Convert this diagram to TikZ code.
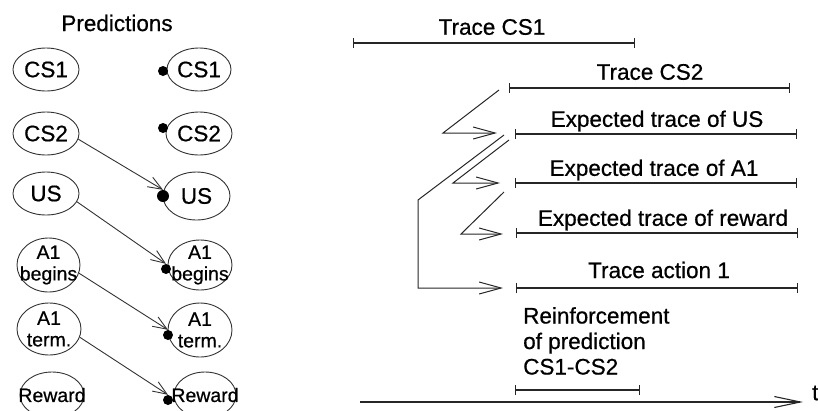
\documentclass[tikz,border=0pt]{standalone}
\usepackage{fontspec}
\setmainfont{Liberation Sans}[FakeBold=0.6]
\usetikzlibrary{arrows.meta,shapes.geometric}

\tikzset{
  oval/.style={ellipse, draw=black!80, line width=0.9pt, inner sep=0pt},
  bigtxt/.style={font=\fontsize{22.5}{25}\selectfont, inner sep=0pt},
  smalltxt/.style={font=\fontsize{19.5}{21.5}\selectfont, inner sep=0pt, align=center},
  dot/.style={circle, fill=black, inner sep=0pt, minimum size=10pt},
  link/.style={draw=black!80, line width=0.9pt, -{Straight Barb[length=14pt,width=11pt]}},
  bar/.style={draw=black!85, line width=1.1pt, {Bar[width=10pt]}-{Bar[width=10pt]}},
  zig/.style={draw=black!85, line width=1pt, -{Straight Barb[length=22pt,width=12pt]}},
}

\begin{document}
\begin{tikzpicture}[x=1pt, y=-1pt]
\useasboundingbox (0,0) rectangle (818,410);

% ---------- prediction units ----------
\node[bigtxt] (title) at (117,23) {Predictions};

% left column
\node[oval, minimum width=66pt, minimum height=43pt] (cs1l) at (46,69.5) {};
\node[bigtxt] (cs1lt) at (cs1l) {CS1};
\node[oval, minimum width=66pt, minimum height=43pt] (cs2l) at (46,133.5) {};
\node[bigtxt] (cs2lt) at (cs2l) {CS2};
\node[oval, minimum width=66pt, minimum height=43pt] (usl) at (46,193.5) {};
\node[bigtxt] (uslt) at (usl) {US};
\node[oval, minimum width=63pt, minimum height=54pt] (a1bl) at (48.5,265) {};
\node[smalltxt] (a1blt) at (a1bl) {A1\\begins};
\node[oval, minimum width=64pt, minimum height=52pt] (a1tl) at (49,329) {};
\node[smalltxt] (a1tlt) at (a1tl) {A1\\term.};
\node[oval, minimum width=64pt, minimum height=46pt] (rewl) at (52,395) {};
\node[smalltxt] (rewlt) at (rewl) {Reward};

% right column
\node[oval, minimum width=64pt, minimum height=43pt] (cs1r) at (199,69.5) {};
\node[bigtxt] (cs1rt) at (cs1r) {CS1};
\node[oval, minimum width=66pt, minimum height=43pt] (cs2r) at (199,133.5) {};
\node[bigtxt] (cs2rt) at (cs2r) {CS2};
\node[oval, minimum width=67pt, minimum height=48pt] (usr) at (196.5,196) {};
\node[bigtxt] (usrt) at (usr) {US};
\node[oval, minimum width=64pt, minimum height=50pt] (a1br) at (200,265) {};
\node[smalltxt] (a1brt) at (a1br) {A1\\begins};
\node[oval, minimum width=64pt, minimum height=54pt] (a1tr) at (200,330) {};
\node[smalltxt] (a1trt) at (a1tr) {A1\\term.};
\node[oval, minimum width=62pt, minimum height=46pt] (rewr) at (205,395) {};
\node[smalltxt] (rewrt) at (rewr) {Reward};

% input dots
\node[dot] (cs1d) at (163,71) {};
\node[dot] (cs2d) at (163,128) {};
\node[dot, minimum size=12pt] (usd) at (163,196) {};
\node[dot] (a1bd) at (166,269) {};
\node[dot] (a1td) at (168,335) {};
\node[dot] (rewd) at (168,400) {};

% prediction links
\draw[link] (cs2l.-10) -- (usd.north);
\draw[link] (usl.-15) -- (a1bd.north);
\draw[link] (a1bl.-15) -- (a1td.north);
\draw[link] (a1tl.-15) -- (rewd.north);

% ---------- traces ----------
\coordinate (cs1a) at (353,43);  \coordinate (cs1b) at (635,43);
\coordinate (cs2a) at (509,88);  \coordinate (cs2b) at (790,88);
\coordinate (usa)  at (515,134); \coordinate (usb)  at (797,134);
\coordinate (a1a)  at (515,183); \coordinate (a1b)  at (797,183);
\coordinate (rwa)  at (516,233); \coordinate (rwb)  at (798,233);
\coordinate (aca)  at (516,288); \coordinate (acb)  at (798,288);
\coordinate (rfa)  at (515,390); \coordinate (rfb)  at (640,390);

\draw[bar] (cs1a) -- (cs1b);
\draw[bar] (cs2a) -- (cs2b);
\draw[bar] (usa) -- (usb);
\draw[bar] (a1a) -- (a1b);
\draw[bar] (rwa) -- (rwb);
\draw[bar] (aca) -- (acb);
\draw[bar] (rfa) -- (rfb);

\node[bigtxt] (lcs1) at (492,27)  {Trace CS1};
\node[bigtxt] (lcs2) at (650,72)  {Trace CS2};
\node[bigtxt] (lus)  at (657,121) {Expected trace of US};
\node[bigtxt] (la1)  at (654,170) {Expected trace of A1};
\node[bigtxt] (lrw)  at (663,220) {Expected trace of reward};
\node[bigtxt] (lac)  at (659,270) {Trace action 1};
\node[bigtxt, align=left, anchor=north west, font=\fontsize{22.5}{25.5}\selectfont]
  (lrf) at (523,307) {Reinforcement\\of prediction\\CS1-CS2};

% trace-to-trace arrows
\coordinate (z1s) at (499,90);  \coordinate (z1m) at (443,133); \coordinate (z1e) at (497,133);
\coordinate (z2s) at (509,140); \coordinate (z2m) at (453,183); \coordinate (z2e) at (500,183);
\coordinate (z3s) at (504,135); \coordinate (z3m) at (418,200); \coordinate (z3n) at (418,288);
\coordinate (z3e) at (503,288);
\coordinate (z4s) at (504,192); \coordinate (z4m) at (461,234); \coordinate (z4e) at (503,234);

\draw[zig] (z1s) -- (z1m) -- (z1e);
\draw[zig] (z2s) -- (z2m) -- (z2e);
\draw[zig] (z3s) -- (z3m) -- (z3n) -- (z3e);
\draw[zig] (z4s) -- (z4m) -- (z4e);

% time axis
\coordinate (t0) at (360,402);
\coordinate (t1) at (803,402);
\draw[draw=black!85, line width=1.1pt, -{Straight Barb[length=26pt,width=11pt]}] (t0) -- (t1);
\node[bigtxt, anchor=west] (tlab) at (812,393) {t};
\end{tikzpicture}
\end{document}
